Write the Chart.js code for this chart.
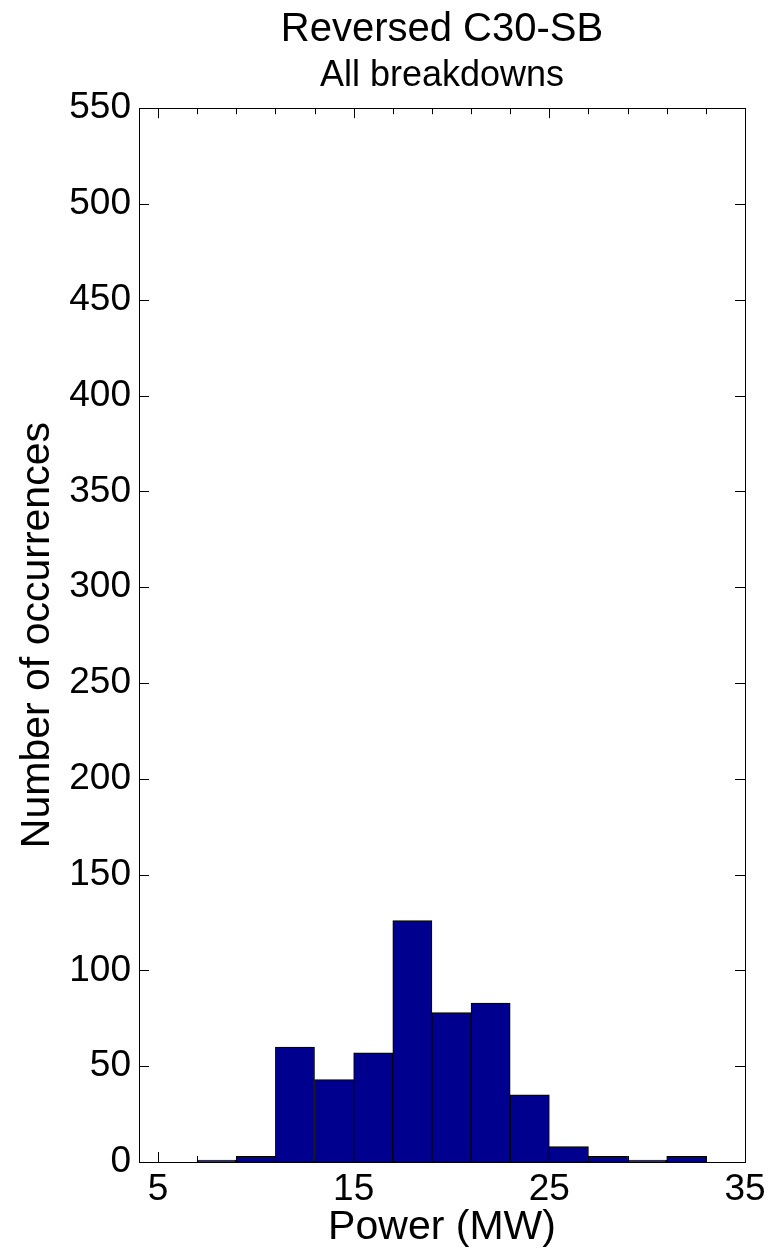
<!DOCTYPE html>
<html>
<head>
<meta charset="utf-8">
<title>Reversed C30-SB</title>
<script src="https://cdn.jsdelivr.net/npm/chart.js@4.4.1/dist/chart.umd.min.js"></script>
<style>
html, body { margin: 0; padding: 0; background: #fff; }
#wrap { width: 773px; height: 1252px; }
</style>
</head>
<body>
<div id="wrap"><canvas id="histChart" width="773" height="1252"></canvas></div>
<script>
// histogram bins (2 MW wide), centres and counts
const binCenters = [8, 10, 12, 14, 16, 18, 20, 22, 24, 26, 28, 30, 32];
const counts = [1, 3, 60, 43, 57, 126, 78, 83, 35, 8, 3, 1, 3];

// axis ticks
const xTickLabels = [5, 15, 25, 35];
const xMinorTicks = [7, 9, 11, 13, 17, 19, 21, 23, 27, 29, 31, 33];
const yTickValues = [0, 50, 100, 150, 200, 250, 300, 350, 400, 450, 500, 550];

const fontFamily = '"Liberation Sans", Arial, Helvetica, sans-serif';

// MATLAB style box with inward ticks on all four sides
const frameTicks = {
    id: 'frameTicks',
    beforeDatasetsDraw(chart) {
        const { ctx, chartArea: a, scales: { x, y } } = chart;
        ctx.save();
        ctx.strokeStyle = '#000';
        ctx.lineWidth = 1;
        ctx.beginPath();
        yTickValues.forEach(v => {
            const py = Math.round(y.getPixelForValue(v)) + 0.5;
            ctx.moveTo(a.left, py); ctx.lineTo(a.left + 10, py);
            ctx.moveTo(a.right, py); ctx.lineTo(a.right - 10, py);
        });
        const xTick = (v, len) => {
            const px = Math.round(x.getPixelForValue(v)) + 0.5;
            ctx.moveTo(px, a.top); ctx.lineTo(px, a.top + len);
            ctx.moveTo(px, a.bottom); ctx.lineTo(px, a.bottom - len);
        };
        xTickLabels.forEach(v => xTick(v, 10));
        xMinorTicks.forEach(v => xTick(v, 6));
        ctx.stroke();
        ctx.restore();
    },
    afterDatasetsDraw(chart) {
        const { ctx, chartArea: a } = chart;
        ctx.save();
        ctx.strokeStyle = '#000';
        ctx.lineWidth = 1;
        ctx.strokeRect(Math.round(a.left) + 0.5, Math.round(a.top) + 0.5,
            Math.round(a.right - a.left), Math.round(a.bottom - a.top));
        ctx.restore();
    }
};

const ctx = document.getElementById('histChart').getContext('2d');
window.myChart = new Chart(ctx, {
    type: 'bar',
    data: {
        datasets: [{
            data: binCenters.map((c, i) => ({ x: c, y: counts[i] })),
            backgroundColor: '#00008f',
            borderColor: '#000',
            borderWidth: 1,
            barPercentage: 1,
            categoryPercentage: 1,
            borderSkipped: false
        }]
    },
    options: {
        responsive: false,
        animation: false,
        devicePixelRatio: 1,
        layout: { padding: { left: 0, right: 28, top: 0, bottom: 0 } },
        plugins: {
            legend: { display: false },
            tooltip: { enabled: false },
            title: {
                display: true,
                text: 'Reversed C30-SB',
                fullSize: false,
                color: '#000',
                font: { family: fontFamily, size: 40, weight: 'normal' },
                padding: { top: 6, bottom: 0 }
            },
            subtitle: {
                display: true,
                text: 'All breakdowns',
                fullSize: false,
                color: '#000',
                font: { family: fontFamily, size: 36, weight: 'normal' },
                padding: { top: 0, bottom: 11 }
            }
        },
        scales: {
            x: {
                type: 'linear',
                offset: false,
                min: 4.03,
                max: 35,
                grid: { display: false, drawTicks: false },
                border: { display: false },
                afterBuildTicks: scale => {
                    scale.ticks = xTickLabels.map(v => ({ value: v }));
                },
                afterFit: scale => { scale.height = 90; },
                ticks: {
                    color: '#000',
                    padding: 6,
                    maxRotation: 0,
                    autoSkip: false,
                    font: { family: fontFamily, size: 37 }
                },
                title: {
                    display: true,
                    text: 'Power (MW)',
                    color: '#000',
                    font: { family: fontFamily, size: 41 },
                    padding: { top: 0, bottom: 0 }
                }
            },
            y: {
                min: 0,
                max: 550,
                grid: { display: false, drawTicks: false },
                border: { display: false },
                afterFit: scale => { scale.width = 139; },
                ticks: {
                    stepSize: 50,
                    color: '#000',
                    padding: 8,
                    font: { family: fontFamily, size: 37 }
                },
                title: {
                    display: true,
                    text: 'Number of occurrences',
                    color: '#000',
                    font: { family: fontFamily, size: 41 },
                    padding: { top: 13, bottom: 0 }
                }
            }
        }
    },
    plugins: [frameTicks]
});
</script>
</body>
</html>
